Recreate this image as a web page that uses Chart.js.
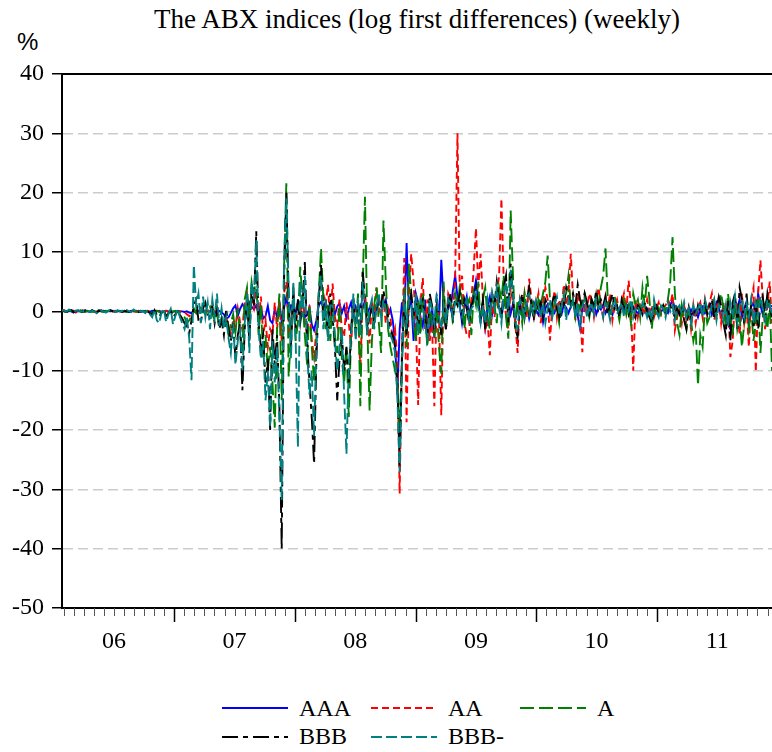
<!DOCTYPE html>
<html>
<head>
<meta charset="utf-8">
<title>ABX indices</title>
<script src="https://cdn.jsdelivr.net/npm/chart.js@4.4.0/dist/chart.umd.min.js"></script>
<style>
    html, body { margin: 0; background: #fff; overflow: hidden; }
    #wrap { position: relative; width: 772px; height: 752px; overflow: hidden; }
    #box { position: absolute; left: 0; top: 0; width: 772px; height: 680px; }
    #title { position: absolute; top: 4px; left: 62px; width: 710px; text-align: center;
             font: 27px "Liberation Serif", "Times New Roman", serif; color: #000; white-space: nowrap; }
    #unit { position: absolute; left: 17px; top: 28px; font: 24px "Liberation Sans", Arial, sans-serif; color: #000; }
    #legend { position: absolute; left: 222px; top: 694px; display: grid;
              grid-template-columns: 149px 149px 149px;
              font: 24px "Liberation Serif", "Times New Roman", serif; color: #000; }
    .item { display: flex; align-items: center; height: 28.5px; }
    .item svg { margin-right: 11px; }
</style>
</head>
<body>
<div id="wrap">
    <div id="title">The ABX indices (log first differences) (weekly)</div>
    <div id="unit">%</div>
    <div id="box"><canvas id="abxChart"></canvas></div>
    <div id="legend"></div>
</div>
<script>
// 周度数据，2006年1月下旬至2011年12月中旬（单位：%）
const seriesNames = ['AAA', 'AA', 'A', 'BBB', 'BBB-'];
const yearLabels = ['06', '07', '08', '09', '10', '11'];
const firstWeek = 2006.07;          // 以年为单位的第一周位置
const weekStep = 7 / 365.25;

const aaa = [
    0.2, 0.1, -0.1, 0.2, 0.0, -0.2, 0.1, 0.0, 0.1, -0.1, 0.2, 0.0, -0.1,
    0.1, 0.0, -0.2, 0.1, 0.2, 0.0, -0.1, 0.1, 0.0, 0.1, -0.1, 0.0, 0.1,
    0.0, 0.1, 0.0, -0.1, 0.1, 0.0, 0.1, 0.0, -0.1, 0.0, 0.1, 0.0, -0.1,
    0.1, 0.0, 0.0, 0.1, -0.1, 0.0, 0.1, 0.0, -0.1, 0.0, 0.0, 0.1, 0.0,
    0.0, -0.1, 0.0, -0.2, -0.3, 0.1, 0.0, 0.1, 0.0, -0.1, 0.0, 0.1, 0.0,
    0.0, -0.1, 0.0, 0.1, -0.2, -0.5, -1.2, -1.0, -0.3, 0.5, 1.0, -0.8, 0.4,
    1.2, 0.6, -0.5, 1.5, 0.8, 0.3, 1.0, -0.4, 0.6, -1.2, -0.8, 0.9, -1.5,
    -2.0, 0.4, -1.0, 1.6, -1.8, 0.5, 2.5, -0.6, 1.0, 0.8, -0.5, 1.5, 0.2,
    1.8, -1.0, -0.6, 0.6, -2.2, -3.2, -1.5, 1.0, 1.6, 0.8, 1.5, 0.3, -0.8,
    1.2, -0.5, 0.8, 1.4, -0.3, 0.9, -1.2, 0.4, 1.5, -0.6, 0.8, -0.4, 1.0,
    0.5, 1.8, -0.4, 0.6, 1.2, -0.8, 0.5, 1.6, 0.8, 1.2, 2.0, -0.6, 0.4,
    -1.5, -5.0, -14.0, -3.0, 1.5, -2.0, 11.5, 0.5, 2.0, -5.0, 3.0, 1.5, -1.0,
    -2.5, 2.0, -5.0, -3.5, 1.0, -4.5, 0.5, -2.0, 8.7, 1.5, -3.0, 2.0, 0.5,
    3.5, 6.0, 2.5, 1.0, -2.0, 0.8, 2.5, -1.0, 1.5, 3.0, 5.2, 2.0, -1.5,
    0.5, -2.7, 1.0, 2.5, -0.5, 1.8, 3.2, 0.6, -1.0, 1.5, 0.8, 2.2, -0.4,
    1.2, -1.5, 0.6, 1.8, -0.8, 0.4, 1.0, -1.2, 0.5, 1.5, 0.2, -0.6, 0.9,
    -1.8, 0.5, 1.2, -0.4, 0.8, -0.2, 1.0, 0.3, -0.5, 1.2, 0.6, -0.3, 0.8,
    1.5, 0.4, -0.8, -2.9, 0.6, 1.0, -0.4, 0.8, 0.2, 1.3, -0.5, 0.7, 0.3,
    1.0, -0.3, 0.6, 0.2, -0.6, 0.9, 0.4, -0.2, 0.7, 0.1, 1.2, 0.5, -0.4,
    0.8, 0.2, -0.5, 0.6, 0.3, -0.2, 0.5, 0.0, 0.4, -0.3, 0.6, 0.2, -0.1,
    0.5, 0.1, -0.3, 1.0, 2.0, 0.4, -0.5, 0.3, -0.2, 0.6, 0.0, -0.8, 0.3,
    -0.5, 0.2, -1.0, 0.4, 0.8, -0.3, 0.5, 1.2, -0.6, 0.3, 1.5, 0.6, -0.8,
    0.8, -1.5, -2.2, -3.0, 0.5, 1.8, 0.6, 2.0, -1.0, 0.4, 1.6, -2.0, 0.8,
    1.5, -0.8, 3.0, 1.0, -0.5, 1.2, 2.0, 0.6, 1.0
];

const aa = [
    0.1, 0.2, 0.0, -0.1, 0.2, 0.1, -0.2, 0.1, 0.0, 0.2, -0.1, 0.1, 0.0,
    0.1, -0.1, 0.0, 0.2, 0.1, -0.1, 0.0, 0.1, -0.1, 0.0, 0.1, 0.0, -0.1,
    0.0, 0.1, -0.1, 0.0, 0.1, 0.0, -0.1, 0.1, 0.0, 0.0, -0.1, 0.1, 0.0,
    -0.1, 0.0, 0.1, 0.0, -0.2, 0.0, 0.1, -0.1, 0.0, 0.1, 0.0, -0.1, 0.0,
    0.0, -0.2, -0.5, -0.8, -0.6, -0.2, 0.1, 0.0, -0.1, 0.0, 0.1, 0.0, -0.1,
    0.0, 0.1, -0.3, -0.8, -1.5, -2.0, -1.0, -2.5, -3.7, -1.5, -2.8, 0.5, -1.8,
    -3.0, 1.5, 3.0, -1.0, 2.0, 0.5, 3.5, -2.0, 2.5, -4.0, -1.5, -6.0, -3.0,
    -4.0, 1.5, -3.0, 2.0, -5.0, 3.0, 5.0, -2.0, -4.5, 1.0, -3.0, 2.0, -1.0,
    3.0, -2.0, -4.0, 1.0, -5.0, -7.7, -3.0, 2.5, 5.0, 3.0, 1.0, 4.5, -2.0,
    4.7, -1.0, -2.5, 2.0, -3.0, -4.3, 1.5, -2.0, -6.0, 2.0, -1.5, 1.0, -10.0,
    2.5, 3.0, -1.0, -5.4, 1.5, -2.0, 4.0, 1.0, -1.0, 2.0, -2.0, 0.5, -1.0,
    -4.9, -3.0, -8.0, -30.7, -6.0, 9.0, -18.7, 3.0, 9.7, 5.0, -2.0, -15.8, 1.5,
    5.6, -3.0, 2.0, -5.0, -2.0, -16.0, 2.0, -1.0, -17.5, 4.0, -3.0, 3.0, 2.0,
    -1.0, 5.8, 30.0, 3.0, 6.0, -2.0, -4.0, -4.3, 2.0, 7.0, 14.0, 4.0, 9.7,
    2.0, -3.0, -1.5, -7.4, 2.0, -1.0, 3.0, 6.0, 19.0, 5.0, -1.0, -3.0, 4.0,
    1.5, -2.0, -7.0, 2.0, 0.5, 3.0, -1.0, 5.5, 2.0, -1.5, 1.0, 3.0, -2.0,
    1.5, 4.0, 2.0, -4.9, 1.0, 3.5, -1.0, 2.0, 0.5, 4.5, 1.0, 3.0, 9.7,
    2.0, -1.5, 3.0, 1.0, -6.9, 2.5, 0.5, 3.0, 1.5, -1.0, 2.0, 4.0, 1.0,
    -1.0, 2.5, 0.5, 3.0, -1.5, 1.0, 2.0, -0.5, 1.5, 3.0, 0.0, 5.2, 1.0,
    -10.0, 2.0, -1.0, 1.5, 0.5, -0.5, 2.0, 0.0, 1.0, -1.0, 0.5, 1.5, -0.5,
    0.5, 1.0, 2.0, 1.0, 3.0, -3.2, -1.0, 0.5, -2.0, 1.0, -1.5, 0.5, -3.0,
    1.0, -2.0, 0.5, 1.5, -1.0, 2.0, -0.5, 1.5, 3.0, -1.5, 0.5, 2.0, -2.0,
    1.5, -3.0, 2.0, -7.7, -5.0, 2.0, 1.0, -4.0, 3.0, -2.0, 1.0, -6.0, 2.0,
    4.0, -10.2, 3.0, 8.6, 2.0, -3.0, 1.0, 5.0, -2.0
];

const singleA = [
    0.1, 0.0, -0.1, 0.2, 0.1, 0.0, -0.1, 0.1, 0.2, 0.0, -0.1, 0.1, 0.0,
    -0.1, 0.1, 0.0, 0.2, 0.0, -0.1, 0.1, 0.0, 0.1, -0.1, 0.0, 0.1, 0.0,
    0.1, 0.0, -0.1, 0.1, 0.0, 0.1, 0.0, -0.1, 0.0, 0.1, 0.0, -0.2, 0.0,
    -0.2, 0.0, 0.1, -0.1, -0.3, 0.0, 0.1, -0.2, 0.0, -0.1, 0.1, 0.0, -0.2,
    -0.5, -1.0, -2.0, -1.5, -0.8, 0.5, -0.3, 1.0, 0.5, 0.0, -0.5, 0.3, 0.8,
    -0.5, -1.5, -0.5, -2.5, -1.0, -3.0, -1.5, -4.0, -2.0, -0.5, -3.5, 0.5, -4.0,
    -6.0, 2.0, 4.0, -2.0, 5.0, 3.0, 6.0, -4.0, 1.0, -8.0, -4.0, -10.0, -6.0,
    -12.0, -19.6, -3.0, 3.0, -15.0, 7.0, 21.6, -11.0, -4.0, 3.0, -5.0, -2.0, 7.5,
    2.0, -4.0, -9.0, 1.0, -6.0, -12.0, -5.0, 3.0, 10.6, 2.0, -3.0, 1.0, -5.0,
    2.0, -4.0, -7.0, 1.0, -8.0, -12.0, -6.0, -17.8, -4.0, 1.0, -3.0, 3.0, -16.0,
    4.0, 19.3, -2.0, -16.7, -5.0, 1.0, 4.0, -2.0, -7.0, 15.3, 5.0, -3.0, -6.0,
    -8.0, -10.0, -12.0, -20.0, -8.0, 4.0, -6.0, 8.0, 3.0, -2.0, -5.0, 2.0, -4.0,
    3.0, -1.0, -6.0, 2.0, -3.0, -4.0, 1.0, -6.0, -10.5, 5.0, -3.0, 1.0, 2.0,
    -2.0, 3.0, 1.0, 4.0, 2.0, -3.0, 1.0, 2.0, -4.0, 3.0, 1.0, 5.0, -2.0,
    2.0, 4.0, -1.0, -3.0, 3.0, 1.0, -2.0, 4.0, 2.0, 6.0, -1.0, -4.6, 17.0,
    6.0, -3.0, 2.0, 1.0, -2.0, 3.0, 0.5, -1.0, 2.0, 1.0, -0.5, 2.0, 1.0,
    3.0, 5.0, 9.4, 2.0, -1.0, 1.5, 0.5, -2.0, 1.0, 2.5, 3.0, 6.0, 1.0,
    2.0, -1.0, 1.5, 0.5, 2.0, 3.0, 1.0, -1.0, 2.0, 0.5, 3.0, 1.0, 4.0,
    6.0, 10.6, 2.0, -1.0, 1.0, 2.5, 0.5, -1.5, 1.0, 2.0, -0.5, 1.0, -2.0,
    3.0, 1.0, 2.0, -1.0, 4.0, 1.0, 6.0, 2.0, -3.0, 1.0, -1.0, 0.5, -0.5,
    1.0, 0.0, 2.0, 5.0, 12.5, 3.0, -2.0, -4.0, 1.0, -1.0, -3.0, 0.5, -1.5,
    -5.0, -3.0, -12.5, -4.0, -6.0, 1.0, -2.0, -1.0, 0.5, 2.0, -1.0, 1.0, 3.0,
    0.5, -2.0, 3.0, -1.0, -4.0, 2.0, -3.0, -1.0, -6.0, -2.0, 1.0, -3.0, 0.5,
    -5.0, -2.0, 2.0, -7.0, -1.0, 1.0, -3.0, 2.0, -10.0
];

const bbb = [
    0.2, 0.0, -0.1, 0.1, 0.2, -0.1, 0.0, 0.1, -0.2, 0.0, 0.1, 0.0, -0.1,
    0.2, 0.0, -0.2, 0.1, 0.0, 0.1, -0.1, 0.0, 0.2, 0.0, -0.1, 0.1, 0.0,
    -0.1, 0.0, 0.1, -0.1, 0.0, 0.2, 0.0, -0.1, 0.1, 0.0, -0.2, 0.0, -0.3,
    -0.5, 0.2, -0.6, -1.0, -0.2, 0.3, -0.8, -0.4, 0.2, -1.0, -0.5, 0.1, -0.6,
    -1.2, -2.0, -2.5, -3.7, -1.5, 1.0, 2.0, -1.5, -2.0, 0.5, 1.5, -0.5, -1.0,
    1.0, -2.0, 0.5, -3.0, -1.5, -4.0, 0.5, -3.0, -5.0, -2.0, -8.0, -4.0, -2.0,
    -13.3, -3.0, 2.0, -5.0, 4.0, 1.0, 13.5, -2.0, -6.0, -4.0, -12.0, -8.0, -20.0,
    -3.0, -9.0, -4.0, -16.0, -40.0, 5.0, 20.0, 2.0, -6.0, 4.0, -3.0, 2.0, -2.0,
    1.0, 8.3, -5.0, -12.0, -18.0, -25.7, -8.0, 2.0, 7.8, -2.0, 1.0, -4.0, 3.0,
    -1.0, -6.0, -15.0, -8.0, -4.0, -10.0, -6.0, -12.0, -3.0, 2.0, -4.0, 1.0, -3.0,
    7.0, 2.0, -3.0, -1.0, 1.0, -2.0, 0.5, 2.0, 1.0, 3.5, 1.0, -1.0, -3.0,
    -4.0, -6.0, -12.0, -26.0, -8.0, 2.0, -4.0, 1.0, 3.0, -1.0, 2.0, -3.0, 1.0,
    2.0, -1.0, -4.0, 3.0, 1.0, -3.0, 2.0, -1.0, -4.0, 2.0, -3.0, 1.0, 3.0,
    -1.0, 2.0, 1.0, 3.0, -1.0, 2.0, 0.5, -2.0, 1.0, 2.0, 4.0, 1.0, -1.0,
    2.0, -3.0, 1.0, 0.5, 3.0, 1.0, 5.0, 2.0, -1.0, 4.0, 6.0, -2.0, 8.0,
    2.0, -3.0, -4.3, 1.0, 3.0, -1.0, 2.0, 4.0, 1.0, -1.0, 2.0, 0.5, 1.5,
    -1.0, 2.0, 1.0, -0.5, 1.5, 3.0, 0.5, -1.0, 2.0, 1.0, 4.0, 2.5, 1.0,
    3.0, 1.0, 4.5, 2.0, 0.5, 3.0, 1.5, -0.5, 2.0, 1.0, 3.5, 0.5, 2.0,
    1.0, 2.5, -0.5, 1.5, 3.0, 0.5, 1.0, -1.0, 2.0, 0.5, 1.5, -0.5, 1.0,
    0.5, -1.0, 1.0, 0.5, -0.5, 1.5, 0.0, -1.0, -2.0, 0.5, 1.0, -0.5, 0.5,
    1.0, -0.5, 0.5, 1.0, 0.0, -1.0, 0.5, -0.5, 1.0, -1.5, -3.0, 0.5, -1.0,
    0.5, -1.0, 1.0, -0.5, 0.5, 1.5, -0.5, 1.0, 2.0, -1.0, 0.5, 2.5, 1.0,
    -2.0, -4.0, 2.0, -5.0, 1.5, 3.0, -3.0, 4.0, 2.0, -2.0, 3.0, -1.5, 1.0,
    -2.5, 2.0, -3.0, 1.0, 2.5, -1.0, 3.0, 0.5, -1.0
];

const bbbMinus = [
    0.2, 0.1, -0.1, 0.3, 0.0, -0.2, 0.1, 0.2, -0.1, 0.0, 0.2, 0.1, -0.1,
    0.1, 0.0, -0.3, 0.2, 0.1, 0.0, -0.2, 0.1, 0.3, 0.0, -0.1, 0.2, 0.0,
    0.1, -0.1, 0.2, 0.0, -0.1, 0.3, 0.0, -0.2, 0.1, 0.0, -0.3, 0.2, -0.5,
    -1.0, 0.3, -1.5, -2.0, -0.3, 0.5, -1.8, -0.5, 0.4, -2.2, -0.8, 0.3, -1.0,
    -2.0, -3.0, -1.0, -4.5, -11.6, 7.8, 1.0, 3.0, -2.0, 2.5, -1.0, 1.5, -3.0,
    2.0, -1.0, 3.0, -2.5, 0.5, -3.0, -1.0, -4.5, -7.0, -2.0, -9.0, -5.0, -3.0,
    -10.0, -2.0, 3.0, -7.0, 5.0, 2.0, 12.0, -3.0, -8.0, -5.0, -15.0, -10.0, -19.5,
    -5.0, -12.0, -6.0, -18.0, -31.9, 8.0, 19.0, 4.0, -8.0, 5.0, -4.0, -22.9, 5.0,
    -1.0, 6.0, -7.0, -14.0, -10.0, -21.0, -6.0, 3.0, 6.0, -3.0, 2.0, -5.0, 1.0,
    1.0, -5.0, -10.0, -6.0, -3.0, -14.0, -24.0, -9.0, -4.0, 3.0, -5.0, 2.0, -4.0,
    5.0, 1.0, -4.0, 0.5, 2.0, -3.0, 1.0, 3.0, -1.0, 2.0, 0.5, -2.0, -4.0,
    -5.0, -7.0, -14.0, -27.1, -10.0, 3.0, -3.0, 2.0, 1.0, -2.0, 3.0, -4.0, 2.0,
    1.0, -2.0, -5.0, 2.0, 0.5, -2.0, 3.0, -1.0, -3.0, 1.0, -2.0, 2.0, 1.5,
    -1.0, 1.5, 2.0, 0.5, -1.0, 1.0, 2.0, -1.5, 0.5, 1.0, 3.0, 0.5, -2.0,
    1.0, -2.0, 2.0, -1.0, 3.0, 0.5, 4.0, 1.0, -2.0, 3.0, 5.0, -1.0, 7.0,
    3.0, -2.0, -3.0, 2.0, 1.0, -1.0, 2.5, 3.0, 0.5, -0.5, 2.0, 1.0, -1.0,
    1.5, -2.0, 0.5, 2.0, -1.0, 1.0, 2.5, -0.5, 1.0, 3.0, -1.5, 2.0, 0.5,
    2.0, -1.0, 1.5, -3.0, 1.0, 2.0, -1.0, 0.5, 1.5, -0.5, 2.0, 0.5, 1.0,
    -1.0, 1.5, 0.5, -1.5, 1.0, 2.0, -0.5, 0.5, 1.5, -1.0, 1.0, 0.0, 2.0,
    -1.0, 0.5, 1.0, -0.5, 1.5, 0.5, -1.0, 0.5, -1.5, 2.0, 0.0, -1.0, 1.0,
    0.5, -1.0, 1.5, 0.0, 1.0, -1.5, 0.5, 1.0, -0.5, 1.5, -1.0, 0.5, -2.0,
    1.0, -0.5, 0.5, 1.5, -1.0, 2.0, 0.5, -0.5, 1.0, 2.0, -1.5, 1.0, 0.5,
    -1.5, 1.0, -2.5, 1.5, -0.5, 2.5, -2.0, 1.0, 2.0, -1.0, 1.5, -1.0, 2.0,
    -2.0, 1.5, -1.0, 2.5, 0.5, -1.5, 2.0, 1.0, -0.5
];

const seriesValues = [aaa, aa, singleA, bbb, bbbMinus];

// 线型样式
const lineStyles = [
    { color: '#0000ff', dash: [] },
    { color: '#ff0000', dash: [7, 4] },
    { color: '#008000', dash: [14, 5] },
    { color: '#000000', dash: [16, 5, 5, 5] },
    { color: '#008080', dash: [11, 4] }
];

const serifFont = 'Liberation Serif';
Chart.defaults.font.family = serifFont;

// 周位置（以年为单位）
const weeks = aaa.map((_, i) => firstWeek + i * weekStep);
const xMin = weeks[0];
const xMax = weeks[weeks.length - 1];

// 每月一个刻度
const monthTicks = [];
for (let y = 2006; y <= 2011; y++) {
    for (let m = 0; m < 12; m++) {
        const v = y + m / 12;
        if (v >= xMin && v <= xMax) monthTicks.push(v);
    }
}

function monthOf(v) {
    return Math.round(v * 12) % 12;
}

/**
 * 画顶部边框和X轴月度刻度
 */
const axisExtras = {
    id: 'axisExtras',
    afterDraw(chart) {
        const { ctx, chartArea, scales } = chart;
        const x = scales.x;
        ctx.save();
        ctx.strokeStyle = '#000';
        ctx.lineWidth = 2;
        ctx.beginPath();
        ctx.moveTo(chartArea.left, chartArea.top);
        ctx.lineTo(chartArea.right, chartArea.top);
        ctx.stroke();

        x.ticks.forEach(t => {
            const px = Math.round(x.getPixelForValue(t.value)) + 0.5;
            const isYear = monthOf(t.value) === 0;
            ctx.beginPath();
            ctx.lineWidth = isYear ? 1.5 : 1;
            ctx.strokeStyle = isYear ? '#000' : '#555';
            ctx.moveTo(px, chartArea.bottom);
            ctx.lineTo(px, chartArea.bottom + (isYear ? 14 : 8));
            ctx.stroke();
        });
        ctx.restore();
    }
};

const datasets = seriesNames.map((name, k) => ({
    label: name,
    data: seriesValues[k].map((v, i) => ({ x: weeks[i], y: v })),
    borderColor: lineStyles[k].color,
    borderDash: lineStyles[k].dash,
    borderWidth: 1.9,
    pointRadius: 0,
    tension: 0,
    fill: false,
    order: seriesNames.length - k
}));

new Chart(document.getElementById('abxChart'), {
    type: 'line',
    data: { datasets: datasets },
    options: {
        responsive: true,
        maintainAspectRatio: false,
        animation: false,
        layout: { padding: { top: 74, right: 0, left: 0, bottom: 0 } },
        plugins: {
            legend: { display: false },
            tooltip: { enabled: false },
            title: { display: false }
        },
        scales: {
            x: {
                type: 'linear',
                min: xMin,
                max: xMax,
                afterBuildTicks: scale => {
                    scale.ticks = monthTicks.map(v => ({ value: v }));
                },
                afterFit: scale => {
                    scale.height = 72;
                    scale.paddingLeft = 0;
                    scale.paddingRight = 0;
                },
                ticks: {
                    autoSkip: false,
                    maxRotation: 0,
                    padding: 19,
                    color: '#000',
                    font: { family: serifFont, size: 24 },
                    callback: v => monthOf(v) === 6 ? yearLabels[Math.floor(v) - 2006] : ''
                },
                grid: { drawOnChartArea: false, drawTicks: false },
                border: { color: '#000', width: 2 }
            },
            y: {
                min: -50,
                max: 40,
                afterFit: scale => { scale.width = 62; },
                ticks: {
                    stepSize: 10,
                    padding: 8,
                    color: '#000',
                    font: { family: serifFont, size: 24 }
                },
                grid: {
                    color: c => (c.tick && (c.tick.value === 40 || c.tick.value === -50)) ? 'rgba(0,0,0,0)' : '#cccccc',
                    lineWidth: 1.5,
                    tickColor: '#000',
                    tickLength: 10,
                    tickWidth: 1.5
                },
                border: { color: '#000', width: 2, dash: [10, 5] }
            }
        }
    },
    plugins: [axisExtras]
});

// 图例
const legend = document.getElementById('legend');
seriesNames.forEach((name, k) => {
    const item = document.createElement('div');
    item.className = 'item';
    item.innerHTML = '<svg width="66" height="4"><line x1="0" y1="2" x2="66" y2="2" stroke="' +
        lineStyles[k].color + '" stroke-width="2" stroke-dasharray="' +
        (lineStyles[k].dash.length ? lineStyles[k].dash.join(',') : 'none') + '"/></svg>' +
        '<span>' + name + '</span>';
    legend.appendChild(item);
});
</script>
</body>
</html>
